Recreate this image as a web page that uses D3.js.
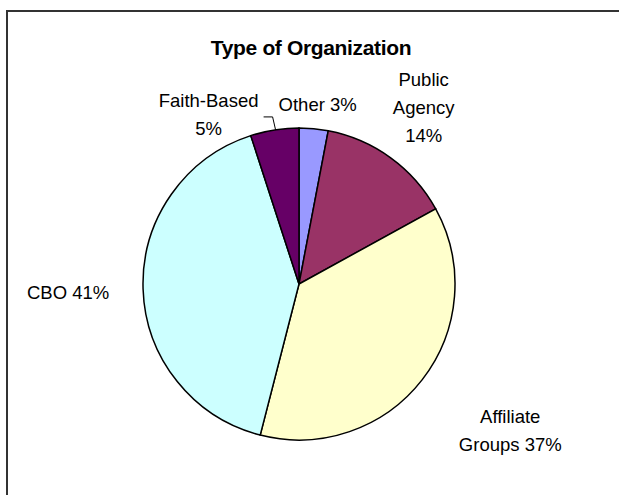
<!DOCTYPE html>
<html>
<head>
<meta charset="utf-8">
<script src="https://cdn.jsdelivr.net/npm/d3@7"></script>
<style>
  html, body { margin: 0; padding: 0; background: #fff; }
  svg { display: block; }
  text { font-family: "Liberation Sans", Arial, sans-serif; fill: #000; }
</style>
</head>
<body>
<svg id="chart" width="619" height="495"></svg>
<script>
const title = "Type of Organization";
const categories = ["Other", "Public Agency", "Affiliate Groups", "CBO", "Faith-Based"];
const values = [3, 14, 37, 41, 5];
const colors = ["#9999FF", "#993366", "#FFFFCC", "#CCFFFF", "#660066"];
const labelLines = [
  ["Other 3%"],
  ["Public", "Agency", "14%"],
  ["Affiliate", "Groups 37%"],
  ["CBO 41%"],
  ["Faith-Based", "5%"]
];

const svg = d3.select("#chart");

// chart-area border (cropped at right and bottom in the original)
svg.append("rect")
  .attr("x", 7).attr("y", 11)
  .attr("width", 700).attr("height", 600)
  .attr("fill", "#fff").attr("stroke", "#333").attr("stroke-width", 2);

svg.append("text")
  .attr("x", 311).attr("y", 55)
  .attr("text-anchor", "middle")
  .attr("font-size", 21).attr("font-weight", "bold")
  .attr("letter-spacing", -0.35)
  .text(title);

const cx = 299, cy = 284, r = 156;
const pie = d3.pie().sort(null).value(d => d)(values);
const arc = d3.arc().innerRadius(0).outerRadius(r);

const g = svg.append("g").attr("transform", `translate(${cx},${cy})`);
g.selectAll("path").data(pie).enter().append("path")
  .attr("d", arc)
  .attr("fill", (d, i) => colors[i])
  .attr("stroke", "#000").attr("stroke-width", 1.5);

// label layout: offset (px) from the slice's outer-edge midpoint to the label's first baseline centre
const labelOffset = [[4, -18], [33, -72], [88, 43], [-75, 10], [-66, -23]];
const lineH = 28;
pie.forEach((d, i) => {
  const a = (d.startAngle + d.endAngle) / 2;
  const ex = cx + Math.sin(a) * r, ey = cy - Math.cos(a) * r;
  const px = ex + labelOffset[i][0], py = ey + labelOffset[i][1];
  const t = svg.append("text").attr("text-anchor", "middle").attr("font-size", 18.5);
  labelLines[i].forEach((s, k) => {
    t.append("tspan").attr("x", px).attr("y", py + k * lineH).text(s);
  });
});

// leader line for the Faith-Based label
(function () {
  const d = pie[4];
  const a = (d.startAngle + d.endAngle) / 2;
  const ex = cx + Math.sin(a) * r, ey = cy - Math.cos(a) * r;
  svg.append("path")
    .attr("d", `M${ex + 1},${ey} L${ex - 2},${ey - 13} L${ex - 11},${ey - 13}`)
    .attr("fill", "none").attr("stroke", "#000").attr("stroke-width", 1);
})();
</script>
</body>
</html>
